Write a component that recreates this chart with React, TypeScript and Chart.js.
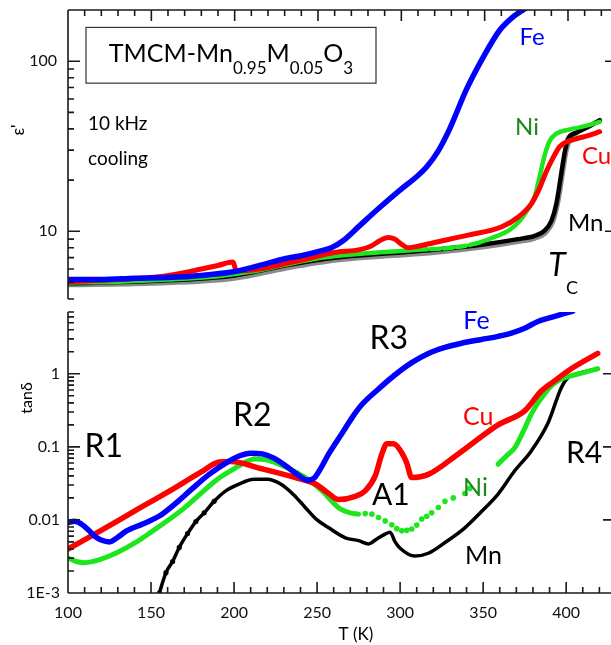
import React, { useEffect, useRef } from 'react';
import { Chart, registerables } from 'chart.js';
Chart.register(...registerables);

const FONT = 'Lato, "Open Sans", sans-serif';
Chart.defaults.font.family = FONT;

type Pt = [number, number];

// ---------- x axis ----------
const xTicks = [100, 150, 200, 250, 300, 350, 400];

// ---------- top panel: eps' (log) ----------
const epsTicks = [10, 100];
const epsTickLabels = ['10', '100'];

const epsFe: Pt[] = [[100, 5.2], [120, 5.2], [140, 5.3], [160, 5.35], [180, 5.5], [200, 5.8], [215, 6.3], [230, 6.9], [240, 7.2], [250, 7.6], [258, 8.0], [265, 8.8], [275, 10.8], [287, 13.8], [299, 17.4], [310, 21.3], [315, 23.8], [322, 29.5], [329, 40], [339, 68], [349, 105], [359, 152], [367, 182], [373, 200], [378, 215]];
const epsCu: Pt[] = [[100, 5.05], [130, 5.2], [150, 5.35], [165, 5.6], [180, 6.0], [190, 6.3], [199, 6.6], [201, 5.85], [215, 6.0], [230, 6.45], [245, 6.95], [260, 7.5], [275, 7.8], [282, 8.2], [287, 8.8], [292, 9.2], [296, 9.0], [300, 8.4], [304, 8.0], [308, 8.1], [320, 8.6], [340, 9.5], [360, 10.6], [370, 12.1], [378, 14.5], [383, 18], [387, 22.5], [391, 27], [395, 31.5], [399, 33.5], [405, 35], [412, 36.5], [419, 38.5]];
const epsNi: Pt[] = [[100, 5.0], [130, 5.05], [160, 5.2], [190, 5.45], [210, 5.8], [230, 6.35], [250, 6.95], [270, 7.3], [290, 7.55], [310, 7.8], [330, 8.0], [345, 8.5], [355, 9.2], [365, 10.2], [371, 11.5], [376, 13.5], [380, 16], [383, 21], [386, 28], [389, 34], [393, 37.5], [400, 39.5], [410, 41.5], [419, 44]];
const epsMn: Pt[] = [[100, 4.95], [150, 5.1], [200, 5.5], [230, 6.3], [260, 7.0], [290, 7.4], [320, 7.8], [350, 8.4], [370, 9.0], [380, 9.4], [386, 10.1], [390, 11.5], [393, 14.5], [396, 22], [398, 29], [400, 35], [405, 38], [412, 41], [419, 45]];
const epsGray: Pt[] = [[100, 4.85], [150, 4.95], [200, 5.3], [230, 6.05], [260, 6.75], [290, 7.15], [320, 7.5], [350, 8.1], [370, 8.7], [380, 9.1], [386, 9.7], [391, 11.5], [394, 15], [397, 23], [399, 30], [402, 36], [405, 38]];

// ---------- bottom panel: tan delta (log) ----------
const tanTicks = [0.001, 0.01, 0.1, 1];
const tanTickLabels = ['1E-3', '0.01', '0.1', '1'];

const tanFe: Pt[] = [[100, 0.0092], [104, 0.0096], [108, 0.0088], [112, 0.0074], [116, 0.006], [120, 0.0053], [125, 0.005], [130, 0.0058], [135, 0.007], [145, 0.0088], [155, 0.0113], [165, 0.017], [175, 0.027], [185, 0.042], [195, 0.06], [203, 0.075], [210, 0.082], [217, 0.08], [224, 0.07], [231, 0.055], [238, 0.042], [244, 0.035], [248, 0.037], [252, 0.05], [257, 0.08], [262, 0.12], [267, 0.18], [272, 0.27], [277, 0.38], [287, 0.62], [297, 0.97], [307, 1.42], [317, 1.9], [327, 2.3], [337, 2.62], [349, 2.95], [359, 3.25], [367, 3.6], [375, 4.2], [383, 5.2], [391, 5.9], [398, 6.6], [404, 7.2]];
const tanCu: Pt[] = [[100, 0.004], [120, 0.0072], [140, 0.0132], [160, 0.024], [180, 0.045], [191, 0.062], [198, 0.063], [217, 0.05], [237, 0.038], [249, 0.031], [257, 0.023], [263, 0.019], [273, 0.021], [279, 0.025], [285, 0.04], [289, 0.08], [292, 0.11], [296, 0.11], [301, 0.083], [304, 0.06], [307, 0.038], [317, 0.042], [335, 0.08], [359, 0.2], [375, 0.31], [385, 0.58], [393, 0.8], [403, 1.17], [419, 1.9]];
const tanNiLow: Pt[] = [[100, 0.003], [105, 0.0027], [110, 0.0026], [115, 0.0027], [120, 0.0029], [130, 0.0036], [140, 0.0048], [150, 0.0068], [160, 0.0098], [170, 0.0145], [180, 0.023], [190, 0.036], [200, 0.05], [207, 0.062], [212, 0.068], [220, 0.066], [227, 0.058], [235, 0.048], [243, 0.038], [253, 0.025], [263, 0.0147], [270, 0.0125], [275, 0.012]];
const tanNiDots: Pt[] = [[279, 0.0122], [283, 0.012], [287, 0.0108], [291, 0.0097], [295, 0.0086], [298, 0.0076], [301, 0.0071], [304, 0.0072], [307, 0.0075], [310, 0.0085], [313, 0.0103], [316, 0.0112], [319, 0.0125], [323, 0.0148], [327, 0.018], [332, 0.02], [339, 0.023], [342, 0.027]];
const tanNiHigh: Pt[] = [[359, 0.058], [364, 0.075], [369, 0.097], [374, 0.16], [379, 0.28], [383, 0.4], [387, 0.53], [391, 0.68], [395, 0.8], [399, 0.88], [403, 0.94], [410, 1.03], [419, 1.17]];
const tanMn: Pt[] = [[155, 0.001], [159, 0.0019], [163, 0.0027], [167, 0.0042], [172, 0.0065], [177, 0.0095], [182, 0.0125], [188, 0.018], [195, 0.025], [203, 0.031], [212, 0.036], [220, 0.036], [228, 0.031], [236, 0.022], [243, 0.0147], [250, 0.01], [257, 0.0078], [267, 0.0057], [275, 0.0052], [281, 0.0047], [286, 0.0055], [291, 0.0064], [294, 0.0068], [297, 0.005], [300, 0.0041], [309, 0.0032], [317, 0.0035], [327, 0.0049], [339, 0.0078], [349, 0.013], [359, 0.0226], [369, 0.047], [379, 0.088], [389, 0.21], [397, 0.64], [401, 0.88], [407, 1.0], [419, 1.17]];

// ---------- colours ----------
const BLUE = '#0000ff';
const RED = '#ff0000';
const GREEN = '#1ee61e';
const DARKGREEN = '#1a8a1a';
const BLACK = '#000000';
const GRAY = '#8a8a8a';
const AXIS = '#1a1a1a';

const toXY = (a: Pt[]) => a.map(([x, y]) => ({ x, y }));

function lineDs(data: Pt[], color: string, width: number, extra: any = {}) {
  return {
    data: toXY(data),
    borderColor: color,
    backgroundColor: color,
    borderWidth: width,
    pointRadius: 0,
    pointBorderWidth: 0,
    fill: false,
    cubicInterpolationMode: 'monotone',
    borderCapStyle: 'round',
    borderJoinStyle: 'round',
    ...extra,
  };
}

type Ann = { t: string; x: number; y: number; size: number; color: string; align?: CanvasTextAlign; style?: string };

const topAnns: Ann[] = [
  { t: 'Fe', x: 378.4, y: 138, size: 24, color: BLUE },
  { t: 'Ni', x: 375.4, y: 40.9, size: 24, color: DARKGREEN },
  { t: 'Cu', x: 408.4, y: 27.6, size: 24, color: RED, align: 'left' },
  { t: 'Mn', x: 400, y: 11.1, size: 24, color: BLACK, align: 'left' },
  { t: 'T', x: 393.4, y: 6.31, size: 32, color: BLACK, style: 'italic' },
  { t: 'C', x: 402.4, y: 4.62, size: 18, color: BLACK },
  { t: '10 kHz', x: 112, y: 42.6, size: 19, color: BLACK, align: 'left' },
  { t: 'cooling', x: 112, y: 26.5, size: 19, color: BLACK, align: 'left' },
];

const botAnns: Ann[] = [
  { t: 'R1', x: 121.6, y: 0.1, size: 32, color: BLACK },
  { t: 'R2', x: 211, y: 0.266, size: 32, color: BLACK },
  { t: 'R3', x: 293.2, y: 3.02, size: 32, color: BLACK },
  { t: 'Fe', x: 346, y: 5.32, size: 25, color: BLUE },
  { t: 'Cu', x: 347, y: 0.258, size: 25, color: RED },
  { t: 'A1', x: 294.4, y: 0.0219, size: 30, color: BLACK },
  { t: 'Ni', x: 345.4, y: 0.0274, size: 25, color: DARKGREEN },
  { t: 'R4', x: 410.8, y: 0.0825, size: 30, color: BLACK },
  { t: 'Mn', x: 350.2, y: 0.00322, size: 25, color: BLACK },
];

function drawAnns(chart: any, anns: Ann[]) {
  const { ctx, scales } = chart;
  ctx.save();
  for (const a of anns) {
    ctx.font = `${a.style ? a.style + ' ' : ''}${a.size}px ${FONT}`;
    ctx.fillStyle = a.color;
    ctx.textAlign = a.align || 'center';
    ctx.textBaseline = 'middle';
    ctx.fillText(a.t, scales.x.getPixelForValue(a.x), scales.y.getPixelForValue(a.y));
  }
  ctx.restore();
}

function drawFrame(chart: any, kind: 'top' | 'bottom') {
  const { ctx, chartArea: a, scales } = chart;
  const xs = scales.x;
  const ys = scales.y;
  ctx.save();
  ctx.strokeStyle = AXIS;
  ctx.lineWidth = 1.6;
  ctx.beginPath();
  ctx.moveTo(a.left, a.top);
  ctx.lineTo(a.left, a.bottom);
  const yEdge = kind === 'top' ? a.top : a.bottom;
  const dir = kind === 'top' ? 1 : -1;
  ctx.moveTo(a.left, yEdge);
  ctx.lineTo(a.right, yEdge);
  for (let t = 100; t <= xs.max; t += 10) {
    const px = xs.getPixelForValue(t);
    const len = t % 50 === 0 ? 11 : 6;
    ctx.moveTo(px, yEdge);
    ctx.lineTo(px, yEdge + dir * len);
  }
  const lo = Math.floor(Math.log10(ys.min));
  const hi = Math.ceil(Math.log10(ys.max));
  for (let d = lo; d <= hi; d++) {
    for (let m = 1; m <= 9; m++) {
      const v = m * Math.pow(10, d);
      if (v < ys.min * 0.999 || v > ys.max * 1.001) continue;
      const py = ys.getPixelForValue(v);
      const major = m === 1;
      ctx.moveTo(a.left, py);
      ctx.lineTo(a.left + (major ? 12 : 6), py);
      if (major) {
        ctx.moveTo(a.right, py);
        ctx.lineTo(a.right - 8, py);
      }
    }
  }
  ctx.stroke();
  ctx.restore();
}

function drawFormula(chart: any) {
  const { ctx, scales } = chart;
  const x0 = scales.x.getPixelForValue(110.8);
  const x1 = scales.x.getPixelForValue(284.8);
  const y0 = scales.y.getPixelForValue(158);
  const y1 = scales.y.getPixelForValue(74.3);
  ctx.save();
  ctx.strokeStyle = '#333';
  ctx.lineWidth = 1.2;
  ctx.strokeRect(x0, y0, x1 - x0, y1 - y0);
  const parts: [string, boolean][] = [['TMCM-Mn', false], ['0.95', true], ['M', false], ['0.05', true], ['O', false], ['3', true]];
  const mainF = `25px ${FONT}`;
  const subF = `17px ${FONT}`;
  let total = 0;
  for (const [s, sub] of parts) {
    ctx.font = sub ? subF : mainF;
    total += ctx.measureText(s).width;
  }
  let x = (x0 + x1) / 2 - total / 2;
  const base = y0 + 35;
  ctx.fillStyle = '#000';
  ctx.textAlign = 'left';
  ctx.textBaseline = 'alphabetic';
  for (const [s, sub] of parts) {
    ctx.font = sub ? subF : mainF;
    ctx.fillText(s, x, sub ? base + 12 : base);
    x += ctx.measureText(s).width;
  }
  ctx.restore();
}

function rotText(ctx: CanvasRenderingContext2D, s: string, x: number, y: number, size: number) {
  ctx.save();
  ctx.translate(x, y);
  ctx.rotate(-Math.PI / 2);
  ctx.font = `${size}px ${FONT}`;
  ctx.fillStyle = '#000';
  ctx.textAlign = 'center';
  ctx.textBaseline = 'middle';
  ctx.fillText(s, 0, 0);
  ctx.restore();
}

const pickLabel = (vals: number[], labels: string[]) => (v: any) => {
  const n = Number(v);
  for (let i = 0; i < vals.length; i++) if (Math.abs(n - vals[i]) / vals[i] < 1e-6) return labels[i];
  return '';
};

const fitY = (s: any) => {
  s.width = 68;
  s.paddingTop = 0;
  s.paddingBottom = 0;
};

export default function App() {
  const topRef = useRef<HTMLCanvasElement>(null);
  const botRef = useRef<HTMLCanvasElement>(null);

  useEffect(() => {
    const tickFont = { family: FONT, size: 16 };
    const topChart = new Chart(topRef.current as HTMLCanvasElement, {
      type: 'line',
      data: {
        datasets: [
          lineDs(epsFe, BLUE, 5.5),
          lineDs(epsCu, RED, 5),
          lineDs(epsNi, GREEN, 4.5, {
            segment: {
              borderDash: (c: any) => (c.p0.parsed.x >= 305 && c.p1.parsed.x <= 346 ? [9, 4] : undefined),
            },
          }),
          lineDs(epsMn, BLACK, 4.5),
          lineDs(epsGray, GRAY, 5),
        ] as any,
      },
      options: {
        animation: false,
        responsive: false,
        layout: { padding: { top: 10, bottom: 6, right: 2, left: 0 } },
        plugins: { legend: { display: false }, tooltip: { enabled: false } },
        scales: {
          x: { type: 'linear', min: 100, max: 427, display: false },
          y: {
            type: 'logarithmic',
            min: 4,
            max: 200,
            grid: { display: false, drawTicks: false },
            border: { display: false },
            ticks: { padding: 11, font: tickFont, color: '#111', callback: pickLabel(epsTicks, epsTickLabels) },
            afterBuildTicks: (s: any) => {
              s.ticks = epsTicks.map((v) => ({ value: v }));
            },
            afterFit: fitY,
          },
        },
      } as any,
      plugins: [
        {
          id: 'topDecor',
          afterDatasetsDraw(chart: any) {
            drawFrame(chart, 'top');
            drawFormula(chart);
            drawAnns(chart, topAnns);
            rotText(chart.ctx, "ε'", 19, 130, 17);
          },
        },
      ],
    });

    const botChart = new Chart(botRef.current as HTMLCanvasElement, {
      type: 'line',
      data: {
        datasets: [
          lineDs(tanFe, BLUE, 5.5),
          lineDs(tanCu, RED, 5.5),
          lineDs(tanNiLow, GREEN, 5),
          lineDs(tanNiDots, GREEN, 0, { showLine: false, pointRadius: 2.8 }),
          lineDs(tanNiHigh, GREEN, 5),
          lineDs(tanMn, BLACK, 3.5, {
            pointRadius: (c: any) => (c.raw && c.raw.x < 190 ? 2.6 : 0),
          }),
        ] as any,
      },
      options: {
        animation: false,
        responsive: false,
        layout: { padding: { top: 7, bottom: 0, right: 2, left: 0 } },
        plugins: { legend: { display: false }, tooltip: { enabled: false } },
        scales: {
          x: {
            type: 'linear',
            min: 100,
            max: 427,
            grid: { display: false, drawTicks: false },
            border: { display: false },
            ticks: { padding: 10, font: tickFont, color: '#111', maxRotation: 0, autoSkip: false, callback: (v: any) => (xTicks.includes(Number(v)) ? String(v) : '') },
            afterBuildTicks: (s: any) => {
              s.ticks = xTicks.map((v) => ({ value: v }));
            },
            afterFit: (s: any) => {
              s.height = 52;
              s.paddingLeft = 0;
              s.paddingRight = 0;
            },
          },
          y: {
            type: 'logarithmic',
            min: 0.001,
            max: 7,
            grid: { display: false, drawTicks: false },
            border: { display: false },
            ticks: { padding: 8, font: tickFont, color: '#111', callback: pickLabel(tanTicks, tanTickLabels) },
            afterBuildTicks: (s: any) => {
              s.ticks = tanTicks.map((v) => ({ value: v }));
            },
            afterFit: fitY,
          },
        },
      } as any,
      plugins: [
        {
          id: 'botDecor',
          afterDatasetsDraw(chart: any) {
            drawFrame(chart, 'bottom');
            drawAnns(chart, botAnns);
            rotText(chart.ctx, 'tanδ', 27, 93, 16);
            const ctx = chart.ctx;
            ctx.save();
            ctx.font = `17px ${FONT}`;
            ctx.fillStyle = '#000';
            ctx.textAlign = 'center';
            ctx.textBaseline = 'middle';
            ctx.fillText('T (K)', chart.scales.x.getPixelForValue(273.4), chart.chartArea.bottom + 42);
            ctx.restore();
          },
        },
      ],
    });

    return () => {
      topChart.destroy();
      botChart.destroy();
    };
  }, []);

  return (
    <div style={{ position: 'fixed', left: 0, top: 0, width: 611, height: 645, overflow: 'hidden', background: '#fff' }}>
      <canvas ref={topRef} width={615} height={305} style={{ position: 'absolute', left: 0, top: 0 }} />
      <canvas ref={botRef} width={615} height={340} style={{ position: 'absolute', left: 0, top: 305 }} />
    </div>
  );
}
